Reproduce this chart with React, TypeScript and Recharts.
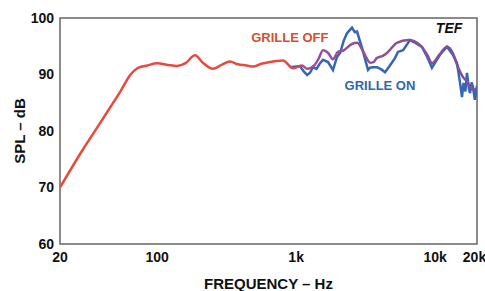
import React from "react";
import {
  LineChart,
  Line,
  XAxis,
  YAxis,
  ReferenceArea,
  ReferenceDot,
} from "recharts";

// frequency (Hz) / SPL (dB)
const offFreq = [
  20, 29, 37, 46, 55, 64, 72, 85, 100, 120, 139, 160, 187, 215, 252, 290,
  334, 381, 440, 490, 560, 648, 720, 804, 950, 1100, 1200, 1350, 1450, 1560,
  1700, 1840, 2000, 2170, 2520, 2740, 3000, 3200, 3400, 3600, 3800, 4200,
  4500, 5300, 6400, 7800, 8800, 9500, 10800, 12200, 13400, 14500, 15800,
  16900, 17800, 18700, 20000,
];
const offDb = [
  70.0, 76.6, 80.6, 84.2, 87.2, 89.9, 91.1, 91.6, 92.0, 91.7, 91.5,
  92.0, 93.4, 92.0, 91.0, 91.7, 92.3, 91.8, 91.6, 91.4, 91.9, 92.2, 92.4,
  92.5, 91.1, 91.6, 91.0, 91.6, 92.8, 94.3, 93.8, 92.7, 94.0, 94.2, 95.4,
  95.6, 94.3, 93.0, 92.1, 92.2, 92.9, 93.3, 93.8, 95.6, 96.1, 95.2, 93.4,
  92.0, 93.6, 94.9, 93.8, 91.5, 89.6, 88.8, 88.0, 87.3, 87.5,
];

const onFreq = [
  900, 1066, 1130, 1200, 1258, 1322, 1400, 1486, 1560, 1695, 1840, 1968, 2070,
  2200, 2322, 2420, 2522, 2640, 2740, 2978, 3150, 3290, 3400, 3570, 3820,
  4100, 4360, 4700, 5140, 5400, 5880, 6590, 7200, 8040, 8800, 9480, 10830,
  12160, 13400, 14360, 15000, 15600, 16000, 16500, 16940, 17500, 17830, 18300,
  18700, 19300, 20000,
];
const onDb = [
  91.3, 91.5, 90.6, 89.9, 90.3, 91.3, 91.0, 92.0, 92.6, 92.2, 90.8, 93.1,
  93.8, 96.0, 97.3, 97.8, 98.3, 97.5, 97.6, 94.7, 92.5, 90.8, 91.2, 91.3,
  91.3, 90.9, 90.4, 91.5, 92.9, 94.0, 94.3, 96.1, 95.6, 94.9, 93.0, 91.2,
  93.5, 94.9, 93.5, 92.0, 89.0, 86.0, 88.5, 87.0, 90.3, 87.5, 86.7, 88.6,
  87.8, 85.5, 88.0,
];

const xTicks = [20, 100, 1000, 10000, 20000];
const xTickLabels = ["20", "100", "1k", "10k", "20k"];
const yTicks = [60, 70, 80, 90, 100];

const grilleOff = offFreq.map((f, i) => ({ f, db: offDb[i] }));
const grilleOn = onFreq.map((f, i) => ({ f, db: onDb[i] }));

const font = "'Liberation Sans', Arial, sans-serif";

const App = () => {
  return (
    <div style={{ position: "absolute", left: 0, top: 0 }}>
      <LineChart
        width={485}
        height={291}
        margin={{ top: 18, right: 8, left: 0, bottom: 0 }}
        style={{ fontFamily: font }}
      >
        <defs>
          <linearGradient id="offGrad" x1="0" y1="0" x2="1" y2="0">
            <stop offset="0" stopColor="#e8493a" />
            <stop offset="0.54" stopColor="#e84a42" />
            <stop offset="0.6" stopColor="#9a4f9c" />
            <stop offset="1" stopColor="#7d4f9e" />
          </linearGradient>
        </defs>
        <XAxis
          type="number"
          dataKey="f"
          scale="log"
          domain={[20, 20000]}
          ticks={xTicks}
          tickFormatter={(v: number) => xTickLabels[xTicks.indexOf(v)]}
          allowDataOverflow
          axisLine={false}
          tickLine={false}
          height={47}
          tick={{ fill: "#111", fontSize: 14, fontWeight: 700 }}
          label={{
            value: "FREQUENCY – Hz",
            position: "insideBottom",
            offset: 2,
            fill: "#111",
            fontSize: 15,
            fontWeight: 700,
          }}
        />
        <YAxis
          type="number"
          dataKey="db"
          domain={[60, 100]}
          ticks={yTicks}
          allowDataOverflow
          axisLine={false}
          tickLine={false}
          tickMargin={0}
          width={60}
          tick={{ fill: "#111", fontSize: 14, fontWeight: 700 }}
          label={{
            content: () => (
              <text
                x={19}
                y={131}
                transform="rotate(-90,19,131)"
                textAnchor="middle"
                dominantBaseline="central"
                fill="#111"
                fontSize={15}
                fontWeight={700}
              >
                SPL – dB
              </text>
            ),
          }}
        />
        <ReferenceArea
          x1={20}
          x2={20000}
          y1={60}
          y2={100}
          fill="none"
          stroke="#666"
          strokeWidth={1.5}
        />
        <Line
          data={grilleOn}
          dataKey="db"
          type="linear"
          stroke="#3566b3"
          strokeWidth={2.5}
          dot={false}
          isAnimationActive={false}
        />
        <Line
          data={grilleOff}
          dataKey="db"
          type="monotone"
          stroke="url(#offGrad)"
          strokeWidth={2.5}
          dot={false}
          isAnimationActive={false}
        />
        <ReferenceDot
          x={900}
          y={96.6}
          r={0}
          label={{
            value: "GRILLE OFF",
            position: "center",
            fill: "#d4502e",
            fontSize: 13,
            fontWeight: 700,
          }}
        />
        <ReferenceDot
          x={4010}
          y={88.0}
          r={0}
          label={{
            value: "GRILLE ON",
            position: "center",
            fill: "#2f67ad",
            fontSize: 13,
            fontWeight: 700,
          }}
        />
        <ReferenceDot
          x={12590}
          y={98.2}
          r={0}
          label={{
            value: "TEF",
            position: "center",
            fill: "#111",
            fontSize: 14,
            fontWeight: 700,
            fontStyle: "italic",
          }}
        />
      </LineChart>
    </div>
  );
};

export default App;
